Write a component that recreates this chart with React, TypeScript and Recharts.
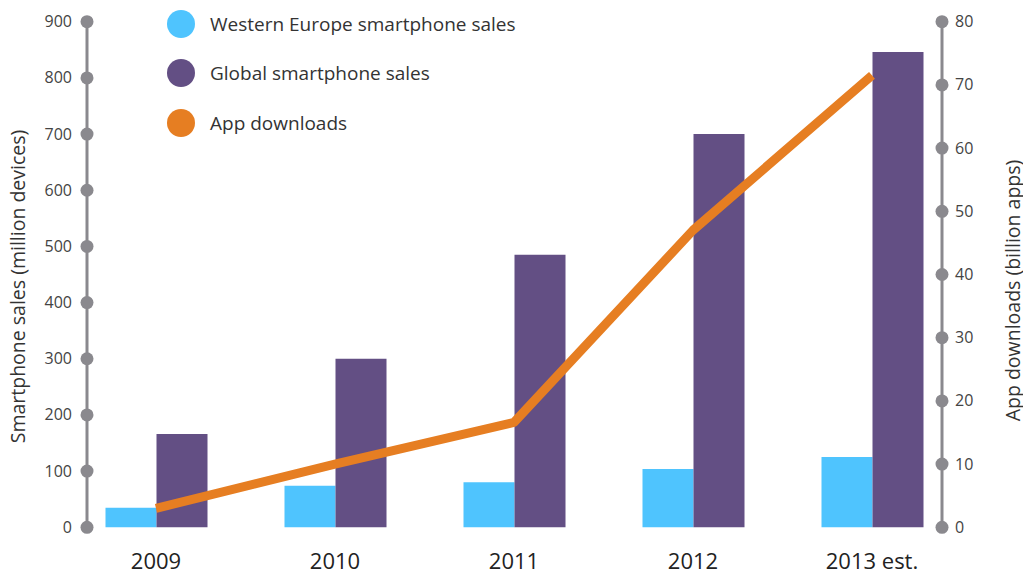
import React from "react"
import {
  ComposedChart,
  Bar,
  Line,
  XAxis,
  YAxis,
} from "recharts"

const years = ["2009", "2010", "2011", "2012", "2013 est."]
const westernEurope = [35, 74, 80, 104, 125]
const globalSales = [166, 300, 485, 700, 846]
const appDownloads = [3, 10, 16.6, 47, 71.5]

const salesTicks = [0, 100, 200, 300, 400, 500, 600, 700, 800, 900]
const downloadTicks = [0, 10, 20, 30, 40, 50, 60, 70, 80]

const data = years.map((year, i) => ({
  year,
  we: westernEurope[i],
  global: globalSales[i],
  apps: appDownloads[i],
}))

const FONT = "'Open Sans', sans-serif"
const AXIS_GRAY = "#8a898e"
const BLUE = "#4fc4fe"
const PURPLE = "#634f84"
const ORANGE = "#e67e22"

const legendItems = [
  { label: "Western Europe smartphone sales", color: BLUE },
  { label: "Global smartphone sales", color: PURPLE },
  { label: "App downloads", color: ORANGE },
]

function LeftTick(props: any) {
  const { x, y, payload } = props
  return (
    <g>
      <circle cx={x} cy={y} r={6.5} fill={AXIS_GRAY} />
      <text
        x={x - 15}
        y={y}
        dy={5.5}
        textAnchor="end"
        fontSize={16}
        fill="#444"
        fontFamily={FONT}
      >
        {payload.value}
      </text>
    </g>
  )
}

function RightTick(props: any) {
  const { x, y, payload } = props
  return (
    <g>
      <circle cx={x} cy={y} r={6.5} fill={AXIS_GRAY} />
      <text
        x={x + 13}
        y={y}
        dy={5.5}
        textAnchor="start"
        fontSize={16}
        fill="#444"
        fontFamily={FONT}
      >
        {payload.value}
      </text>
    </g>
  )
}

function YearTick(props: any) {
  const { x, y, payload } = props
  return (
    <text
      x={x}
      y={y}
      dy={42}
      textAnchor="middle"
      fontSize={22}
      fill="#222"
      fontFamily={FONT}
    >
      {payload.value}
    </text>
  )
}

function LegendBox() {
  return (
    <div
      style={{
        position: "absolute",
        left: 167,
        top: -1,
        fontFamily: FONT,
        pointerEvents: "none",
      }}
    >
      {legendItems.map((item) => (
        <div
          key={item.label}
          style={{ display: "flex", alignItems: "center", height: 49.5 }}
        >
          <span
            style={{
              width: 28,
              height: 28,
              borderRadius: 14,
              background: item.color,
              display: "inline-block",
              marginRight: 15,
            }}
          />
          <span style={{ fontSize: 19, color: "#333" }}>{item.label}</span>
        </div>
      ))}
    </div>
  )
}

export default function App() {
  return (
    <div style={{ position: "absolute", left: 0, top: 0, width: 1023, height: 574 }}>
      <style>{"body{margin:0}"}</style>
      <ComposedChart
        width={1023}
        height={574}
        data={data}
        margin={{ top: 21.7, right: 0, bottom: 0, left: 0 }}
        barGap={0}
      >
        <XAxis
          dataKey="year"
          axisLine={false}
          tickLine={false}
          tickSize={0}
          tickMargin={0}
          height={46.7}
          padding={{ left: -20.5, right: -19.5 }}
          tick={<YearTick />}
          interval={0}
        />
        <YAxis
          yAxisId="sales"
          orientation="left"
          width={87}
          domain={[0, 900]}
          ticks={salesTicks}
          interval={0}
          axisLine={{ stroke: AXIS_GRAY, strokeWidth: 3 }}
          tickLine={false}
          tickSize={0}
          tickMargin={0}
          tick={<LeftTick />}
          label={{
            value: "Smartphone sales (million devices)",
            angle: -90,
            position: "insideLeft",
            offset: 0,
            dx: 18,
            dy: 12,
            style: { fontSize: 19.5, fill: "#333", fontFamily: FONT, textAnchor: "middle" },
          }}
        />
        <YAxis
          yAxisId="apps"
          orientation="right"
          width={81}
          domain={[0, 80]}
          ticks={downloadTicks}
          interval={0}
          axisLine={{ stroke: AXIS_GRAY, strokeWidth: 3 }}
          tickLine={false}
          tickSize={0}
          tickMargin={0}
          tick={<RightTick />}
          label={{
            value: "App downloads (billion apps)",
            angle: -90,
            position: "insideRight",
            offset: 0,
            dx: -10,
            dy: 16,
            style: { fontSize: 19.5, fill: "#333", fontFamily: FONT, textAnchor: "middle" },
          }}
        />
        <Bar
          yAxisId="sales"
          dataKey="we"
          name="Western Europe smartphone sales"
          fill={BLUE}
          barSize={51}
          isAnimationActive={false}
        />
        <Bar
          yAxisId="sales"
          dataKey="global"
          name="Global smartphone sales"
          fill={PURPLE}
          barSize={51}
          isAnimationActive={false}
        />
        <Line
          yAxisId="apps"
          type="linear"
          dataKey="apps"
          name="App downloads"
          stroke={ORANGE}
          strokeWidth={9}
          strokeLinejoin="round"
          dot={false}
          activeDot={false}
          isAnimationActive={false}
        />
      </ComposedChart>
      <LegendBox />
    </div>
  )
}
